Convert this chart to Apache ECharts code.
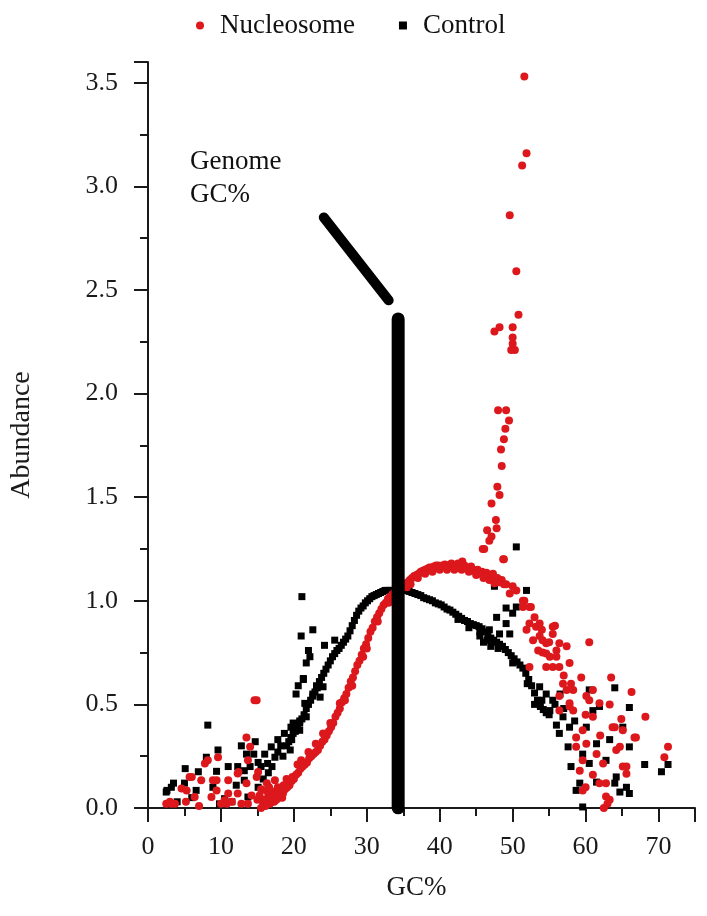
<!DOCTYPE html>
<html>
<head>
<meta charset="utf-8">
<script src="https://cdn.jsdelivr.net/npm/echarts@6/dist/echarts.min.js"></script>
<style>
html,body{margin:0;padding:0;background:#fff;}
#chart{width:707px;height:916px;}
</style>
</head>
<body>
<div id="chart"></div>
<script>
// Nucleosome (red) points, [GC%, abundance]
var nucLow = [[2.5,0.02],[3.0,0.03],[3.2,0.02],[3.7,0.02],[4.6,0.094],[5.2,0.03],[5.3,0.085],[5.7,0.15],[6.0,0.15],[6.4,0.053],[7.0,0.01],
  [7.3,0.134],[7.8,0.215],[8.2,0.23],[8.7,0.053],[8.9,0.134],[9.4,0.085],[9.4,0.134],[9.6,0.245],[10.0,0.02],[10.5,0.037],[10.8,0.02],
  [11.0,0.07],[11.0,0.134],[11.5,0.03],[12.3,0.166],[12.4,0.174],[12.3,0.07],[12.8,0.02],[13.5,0.12],[13.7,0.23],[13.5,0.34],[14.0,0.295],
  [13.7,0.02],[14.2,0.06],[14.6,0.52],[14.9,0.52],[14.9,0.15],[15.1,0.174],[15.5,0.09],[15.0,0.04],[16.2,0.085],[16.3,0.12],[16.5,0.06],
  [17.4,0.134],[16.8,0.05],[17.8,0.10],[15.8,0.02],[16.0,0.04],[17.0,0.08],[17.5,0.06],[18.0,0.09],[18.4,0.05],[16.6,0.10],[15.3,0.06]];
var nucCurve = [[15.5,0.00],[15.8,0.01],[16.1,0.01],[16.4,0.02],[16.7,0.02],[17.0,0.03],[17.3,0.03],[17.6,0.04],[17.9,0.05],[18.2,0.06],
  [18.5,0.07],[18.8,0.09],[19.1,0.10],[19.4,0.11],[19.7,0.13],[20.0,0.14],[20.3,0.16],[20.6,0.17],[20.9,0.19],[21.2,0.20],[21.5,0.21],
  [21.8,0.22],[22.1,0.24],[22.4,0.25],[22.7,0.26],[23.0,0.27],[23.3,0.28],[23.6,0.30],[23.9,0.32],[24.2,0.33],[24.5,0.35],[24.8,0.37],
  [25.1,0.39],[25.4,0.41],[25.7,0.44],[26.0,0.46],[26.3,0.48],[26.6,0.51],[26.9,0.53],[27.2,0.55],[27.5,0.58],[27.8,0.61],[28.1,0.63],
  [28.4,0.66],[28.7,0.69],[29.0,0.71],[29.3,0.74],[29.6,0.77],[29.9,0.79],[30.2,0.82],[30.5,0.85],[30.8,0.87],[31.1,0.90],[31.4,0.92],
  [31.7,0.94],[32.0,0.96],[32.3,0.98],[32.6,0.99],[32.9,1.01],[33.2,1.02],[33.5,1.03],[33.8,1.04],[34.1,1.05],[34.4,1.05],
  [19.0,0.14],[20.5,0.21],[22.0,0.27],[23.0,0.31],[24.0,0.36],[26.3,0.505],[28.0,0.59],[29.5,0.73],[18.6,0.11],[21.0,0.23],
  [17.2,0.05],[18.0,0.08],[19.8,0.15],[25.0,0.41],[27.0,0.52],[30.0,0.77],[31.5,0.90],[33.0,0.99]];
var nucHump = [[34.7,1.06],[35.0,1.07],[35.3,1.08],[35.6,1.09],[35.9,1.10],[36.2,1.11],[36.5,1.12],[36.8,1.125],[37.1,1.13],[37.4,1.14],
  [37.7,1.145],[38.0,1.15],[38.3,1.155],[38.6,1.16],[38.9,1.16],[39.2,1.165],[39.5,1.17],[39.8,1.17],[40.1,1.165],[40.4,1.17],[40.7,1.175],
  [41.0,1.17],[41.3,1.17],[41.6,1.18],[41.9,1.165],[42.2,1.17],[42.5,1.18],[42.8,1.165],[43.1,1.19],[43.4,1.17],[43.7,1.16],[44.0,1.15],
  [44.3,1.165],[44.6,1.15],[44.9,1.14],[45.2,1.15],[45.5,1.13],[45.8,1.14],[46.1,1.12],[46.4,1.135],[46.7,1.12],[47.0,1.11],[47.3,1.13],
  [47.6,1.10],[47.9,1.11],[48.2,1.09],[48.5,1.10],[48.8,1.08],[36.0,1.08],[38.0,1.13],[40.0,1.15],[42.0,1.15],[44.0,1.14],[46.0,1.11],
  [47.5,1.085],[49.1,1.08],[50.0,1.07],[49.6,1.035],[50.5,1.05],[51.4,1.00],[51.4,0.97],[52.5,0.97],[51.6,1.00],[52.3,0.97],[48.7,1.20],[45.9,1.25],
  [39.0,1.14],[41.0,1.15],[43.0,1.15],[45.0,1.125],[46.8,1.10],[37.0,1.11],[35.5,1.065]];
var nucPeak = [[51.6,3.53],[51.9,3.16],[51.3,3.10],[49.6,2.86],[50.5,2.59],[50.8,2.38],[47.5,2.30],[48.2,2.32],[50.0,2.32],[50.0,2.27],
  [50.0,2.24],[49.8,2.21],[50.3,2.21],[48.0,1.92],[49.1,1.92],[49.5,1.87],[49.0,1.83],[48.8,1.78],[48.4,1.73],[48.5,1.65],[47.9,1.55],
  [48.2,1.51],[47.1,1.47],[47.7,1.39],[47.8,1.35],[46.5,1.34],[47.1,1.31],[46.8,1.29],[46.1,1.25],[48.8,1.20]];
var nucRight = [[52.3,0.89],[53.2,0.875],[51.9,0.86],[53.7,0.83],[52.8,0.81],[54.6,0.795],[55.5,0.875],[54.1,0.75],[55.1,0.73],[55.5,0.68],
  [52.3,0.68],[56.0,0.76],[55.8,0.88],[53.7,0.89],[55.5,0.84],[54.1,0.81],[56.4,0.795],[57.4,0.78],[60.5,0.80],[54.6,0.745],[56.0,0.73],
  [57.8,0.70],[54.6,0.68],[56.4,0.68],[59.4,0.63],[63.5,0.63],[66.3,0.56],[56.9,0.60],[58.3,0.57],[61.0,0.57],[60.5,0.52],[61.9,0.505],
  [63.3,0.50],[57.8,0.49],[56.4,0.47],[64.9,0.43],[68.2,0.44],[61.0,0.44],[64.0,0.39],[59.6,0.375],[58.7,0.34],[66.7,0.34],[65.1,0.375],
  [60.1,0.31],[64.2,0.28],[71.3,0.295],[70.8,0.245],[61.5,0.26],[59.6,0.23],[62.4,0.215],[65.1,0.20],[59.2,0.18],[61.9,0.12],[62.8,0.055],
  [63.3,0.04],[59.6,0.085],[65.6,0.165],[57.4,0.57],[57.8,0.505],[56.4,0.54],[58.3,0.47],[60.1,0.54],[63.7,0.39],[66.9,0.34],[58.7,0.295],
  [64.7,0.295],[65.6,0.20],[62.8,0.12],[63.0,0.02],[62.5,0.0],[53.0,0.92],[54.0,0.86],[55.0,0.80],[53.5,0.76],[57.0,0.64],[58.0,0.60],
  [60.0,0.45],[62.0,0.35],[61.0,0.16],[60.0,0.10]];

// Control (black) points
var ctrlLow = [[2.5,0.077],[2.6,0.085],[3.2,0.10],[3.5,0.12],[5.0,0.12],[5.1,0.19],[6.6,0.085],[6.9,0.175],[8.0,0.245],[8.2,0.40],[8.9,0.10],
  [9.4,0.177],[9.6,0.28],[10.5,0.045],[11.0,0.20],[12.1,0.11],[12.3,0.20],[12.8,0.30],[13.2,0.18],[13.2,0.134],[13.5,0.26],[13.7,0.053],
  [14.5,0.26],[14.7,0.32],[15.1,0.10],[15.1,0.22],[15.5,0.20],[16.0,0.26],[16.4,0.215],[16.9,0.295],[17.4,0.245],[17.8,0.33],[18.7,0.36],
  [15.8,0.14],[16.5,0.17],[17.0,0.20],[17.8,0.27],[18.2,0.30],[18.5,0.25],[14.0,0.20],[11.5,0.03],[4.0,0.03],[9.8,0.02],[6.0,0.05]];
var ctrlCurve = [[19.0,0.30],[19.3,0.32],[19.6,0.34],[19.9,0.36],[20.2,0.37],[20.5,0.39],[20.8,0.41],[21.1,0.43],[21.4,0.45],[21.7,0.48],
  [22.0,0.50],[22.3,0.52],[22.6,0.54],[22.9,0.56],[23.2,0.58],[23.5,0.61],[23.8,0.63],[24.1,0.65],[24.4,0.67],[24.7,0.69],[25.0,0.71],
  [25.3,0.73],[25.6,0.745],[25.9,0.76],[26.2,0.77],[26.5,0.785],[26.8,0.80],[27.1,0.815],[27.4,0.83],[27.7,0.855],[28.0,0.88],[28.3,0.905],
  [28.6,0.93],[28.9,0.95],[29.2,0.965],[29.5,0.975],[29.8,0.99],[30.1,1.00],[30.4,1.01],[30.7,1.02],[31.0,1.025],[31.3,1.03],[31.6,1.035],
  [31.9,1.04],[32.2,1.045],[32.5,1.05],[32.8,1.05],[33.1,1.05],[33.4,1.05],[33.7,1.05],[34.0,1.05]];
var ctrlHump = [[34.6,1.05],[35.0,1.05],[35.4,1.05],[35.8,1.045],[36.2,1.04],[36.6,1.035],[37.0,1.03],[37.4,1.025],[37.8,1.015],[38.2,1.01],
  [38.6,1.005],[39.0,1.00],[39.4,0.99],[39.8,0.985],[40.2,0.98],[40.6,0.97],[41.0,0.96],[41.4,0.955],[41.8,0.945],[42.2,0.935],[42.6,0.925],
  [43.0,0.915],[43.4,0.905],[43.8,0.90],[44.2,0.89],[44.6,0.885],[45.0,0.88],[45.4,0.875],[45.8,0.865],[46.2,0.85],[46.6,0.835],[47.0,0.82],
  [47.4,0.81],[47.8,0.80],[48.2,0.79],[48.6,0.78],[49.0,0.765],[49.4,0.75],[49.8,0.735],[50.2,0.72],[50.6,0.705],[51.0,0.69],[51.4,0.675],
  [51.8,0.65],[52.2,0.62],[52.6,0.59],[53.0,0.555],[53.4,0.52],[53.8,0.49],[54.2,0.475],[54.6,0.46],[55.0,0.45],
  [42.5,0.91],[44.0,0.87],[45.5,0.85],[46.5,0.81],[48.0,0.77],[50.0,0.70],[52.0,0.60]];
var ctrlScatter = [[22.6,0.86],[24.2,0.785],[25.6,0.81],[22.0,0.76],[22.2,0.73],[21.7,0.70],[21.3,0.625],[20.6,0.59],[23.1,0.59],[24.0,0.585],
  [22.6,0.55],[21.5,0.505],[23.6,0.535],[21.7,0.44],[19.9,0.41],[20.8,0.375],[19.7,0.33],[19.5,0.28],[19.6,0.39],[20.8,0.42],[20.3,0.55],
  [21.3,0.62],[21.0,0.83],[21.1,1.02],
  [47.8,0.92],[49.1,0.965],[50.0,0.94],[49.1,0.89],[49.6,0.84],[48.2,0.84],[47.5,1.07],[51.9,1.05],[50.5,0.97],[50.5,1.26],[46.8,0.86],
  [46.0,0.80],[45.5,0.83],[47.0,0.78],[53.7,0.585],[54.6,0.55],[55.5,0.52],[55.1,0.47],[56.9,0.44],[56.4,0.36],[57.8,0.39],[60.5,0.57],
  [64.0,0.58],[66.0,0.485],[61.0,0.47],[61.9,0.49],[60.1,0.39],[61.5,0.31],[63.3,0.33],[65.1,0.39],[66.0,0.295],[57.6,0.295],[59.6,0.26],
  [58.0,0.20],[60.5,0.215],[62.8,0.23],[64.2,0.15],[65.6,0.10],[66.0,0.07],[59.2,0.12],[59.6,0.005],[68.1,0.21],[70.4,0.175],[71.3,0.21],
  [64.0,0.12],[58.7,0.085],[61.5,0.125],[64.7,0.077],[53.0,0.50],[54.0,0.52],[55.8,0.50],[56.0,0.40],[57.0,0.48],[58.5,0.42],[56.5,0.55]];

// genome GC% marker and pointer
var genomeBar = [[34.3,0],[34.3,2.36]];
var genomePointer = [[24.1,2.85],[33.0,2.45]];

var xTicks = {min:0, max:75, interval:10};
var yTicks = {min:0, max:3.6, interval:0.5};

var chart = echarts.init(document.getElementById('chart'));
var serif = '"Liberation Serif", "DejaVu Serif", serif';
var axisCommon = {
    axisLine:{lineStyle:{color:'#1a1a1a', width:2}},
    axisTick:{show:true, inside:false, length:14, lineStyle:{color:'#1a1a1a', width:2}},
    minorTick:{show:true, splitNumber:2, length:8, lineStyle:{color:'#1a1a1a', width:2}},
    splitLine:{show:false},
    nameTextStyle:{fontFamily:serif, fontSize:28, color:'#1a1a1a'}
};
var option = {
    backgroundColor:'#fff',
    animation:false,
    legend:{
        data:['Nucleosome','Control'],
        left:191, top:7,
        itemWidth:8, itemHeight:8, itemGap:44,
        textStyle:{fontFamily:serif, fontSize:27, color:'#111', padding:[0,0,0,11]}
    },
    grid:{left:148, right:12, top:62, bottom:108},
    graphic:[{
        type:'text', left:190, top:145,
        style:{text:'Genome\nGC%', font:'27px "Liberation Serif"', lineHeight:33, fill:'#111'}
    }],
    xAxis:Object.assign({}, axisCommon, {
        type:'value', min:xTicks.min, max:xTicks.max, interval:xTicks.interval,
        name:'GC%', nameLocation:'middle', nameGap:66,
        nameTextStyle:{fontFamily:serif, fontSize:27, color:'#1a1a1a', padding:[0,10,0,0]},
        axisLabel:{fontFamily:serif, fontSize:26, color:'#1a1a1a', margin:26, showMaxLabel:false}
    }),
    yAxis:Object.assign({}, axisCommon, {
        type:'value', min:yTicks.min, max:yTicks.max, interval:yTicks.interval,
        name:'Abundance', nameLocation:'middle', nameGap:112,
        axisLabel:{fontFamily:serif, fontSize:26, color:'#1a1a1a', margin:30, showMaxLabel:false,
            formatter:function(v){ return v.toFixed(1); }}
    }),
    series:[
        {
            name:'Control', type:'scatter', symbol:'rect', symbolSize:7,
            itemStyle:{color:'#000', opacity:1},
            data:[].concat(ctrlLow, ctrlCurve, ctrlHump, ctrlScatter)
        },
        {
            name:'Nucleosome', type:'scatter', symbol:'circle', symbolSize:8,
            itemStyle:{color:'#dc181d', opacity:1},
            data:[].concat(nucLow, nucCurve, nucHump, nucPeak, nucRight)
        },
        {
            name:'genome', type:'line', symbol:'none', silent:true,
            lineStyle:{color:'#000', width:13, cap:'round'},
            data:genomeBar
        },
        {
            name:'pointer', type:'line', symbol:'none', silent:true,
            lineStyle:{color:'#000', width:10, cap:'round'},
            data:genomePointer
        }
    ]
};
chart.setOption(option);
</script>
</body>
</html>
